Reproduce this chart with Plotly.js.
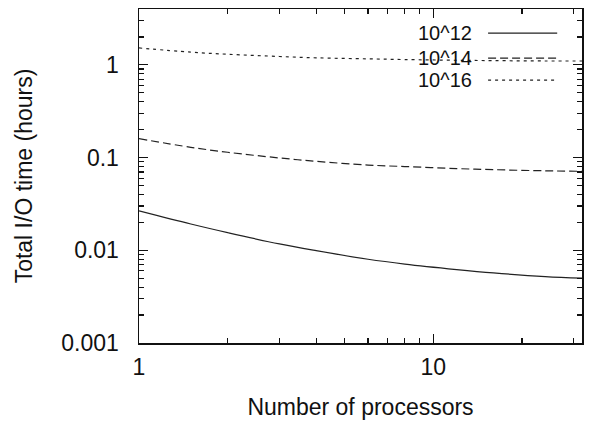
<!DOCTYPE html>
<html>
<head>
<meta charset="utf-8">
<script src="https://cdn.plot.ly/plotly-3.0.1.min.js"></script>
<style>html,body{margin:0;padding:0;background:#fff;}#chart{width:589px;height:421px;}</style>
</head>
<body>
<div id="chart"></div>
<script>
var processors = [1, 1.5, 2, 3, 4, 6, 8, 12, 16, 24, 32];
var series12 = [0.0266, 0.0192, 0.0155, 0.0117, 0.0099, 0.0080, 0.0071, 0.0062, 0.0057, 0.0052, 0.0050];
var series14 = [0.160, 0.129, 0.114, 0.099, 0.091, 0.083, 0.080, 0.076, 0.074, 0.072, 0.071];
var series16 = [1.52, 1.37, 1.30, 1.23, 1.19, 1.16, 1.14, 1.12, 1.11, 1.10, 1.10];
var seriesNames = ["10^12", "10^14", "10^16"];
var xTickVals = [1, 10];
var xTickText = ["1", "10"];
var xMinorVals = [2, 3, 4, 5, 6, 7, 8, 9, 20, 30];
var yTickVals = [0.001, 0.01, 0.1, 1];
var yTickText = ["0.001", "0.01", "0.1", "1"];
var yMinorVals = [];
[0.001, 0.01, 0.1, 1].forEach(function (d) { for (var k = 2; k <= 9; k++) { if (d * k <= 4) yMinorVals.push(d * k); } });

var dashes = ["solid", "8px,4px", "3px,4px"];
var allSeries = [series12, series14, series16];
var lineColor = "#222";

var traces = allSeries.map(function (s, i) {
  return { x: processors, y: s, mode: "lines", name: seriesNames[i], showlegend: false,
           line: { color: lineColor, width: 1.2, dash: dashes[i], shape: "spline" } };
});

var font = { family: "Liberation Sans, Arial, sans-serif", size: 23, color: "#111" };
var legendFont = { family: "Liberation Sans, Arial, sans-serif", size: 20, color: "#111" };

// legend drawn gnuplot-style: text on the left, sample on the right
var legY = [0.928, 0.853, 0.787];
var annotations = seriesNames.map(function (n, i) {
  return { xref: "paper", yref: "paper", x: 0.755, y: legY[i], xanchor: "right", yanchor: "middle",
           text: n, showarrow: false, font: legendFont, borderpad: 0 };
});
var shapes = seriesNames.map(function (n, i) {
  return { type: "line", xref: "paper", yref: "paper", x0: 0.788, x1: 0.944, y0: legY[i], y1: legY[i],
           line: { color: lineColor, width: 1.2, dash: dashes[i] } };
});

var axisCommon = {
  type: "log", showgrid: false, zeroline: false, showline: true, linecolor: "#111", linewidth: 1.5,
  mirror: "ticks", ticks: "inside", ticklen: 9, tickwidth: 1.2, tickcolor: "#111",
  tickfont: font, tickmode: "array"
};

var layout = {
  width: 589, height: 421,
  margin: { l: 139, r: 7, t: 9, b: 78 },
  paper_bgcolor: "#fff", plot_bgcolor: "#fff",
  font: font,
  xaxis: Object.assign({}, axisCommon, {
    range: [0, Math.log10(32)], tickvals: xTickVals, ticktext: xTickText, ticklabelstandoff: 3,
    minor: { tickmode: "array", tickvals: xMinorVals, ticks: "inside", ticklen: 5, tickwidth: 1.2, tickcolor: "#111", showgrid: false },
    title: { text: "Number of processors", font: font, standoff: 20 }
  }),
  yaxis: Object.assign({}, axisCommon, {
    range: [-3, Math.log10(4)], tickvals: yTickVals, ticktext: yTickText, ticklabelstandoff: 14,
    minor: { tickmode: "array", tickvals: yMinorVals, ticks: "inside", ticklen: 5, tickwidth: 1.2, tickcolor: "#111", showgrid: false },
    title: { text: "Total I/O time (hours)", font: font, standoff: 22 }
  }),
  annotations: annotations,
  shapes: shapes,
  showlegend: false
};

Plotly.newPlot("chart", traces, layout, { staticPlot: true, displayModeBar: false });
</script>
</body>
</html>
